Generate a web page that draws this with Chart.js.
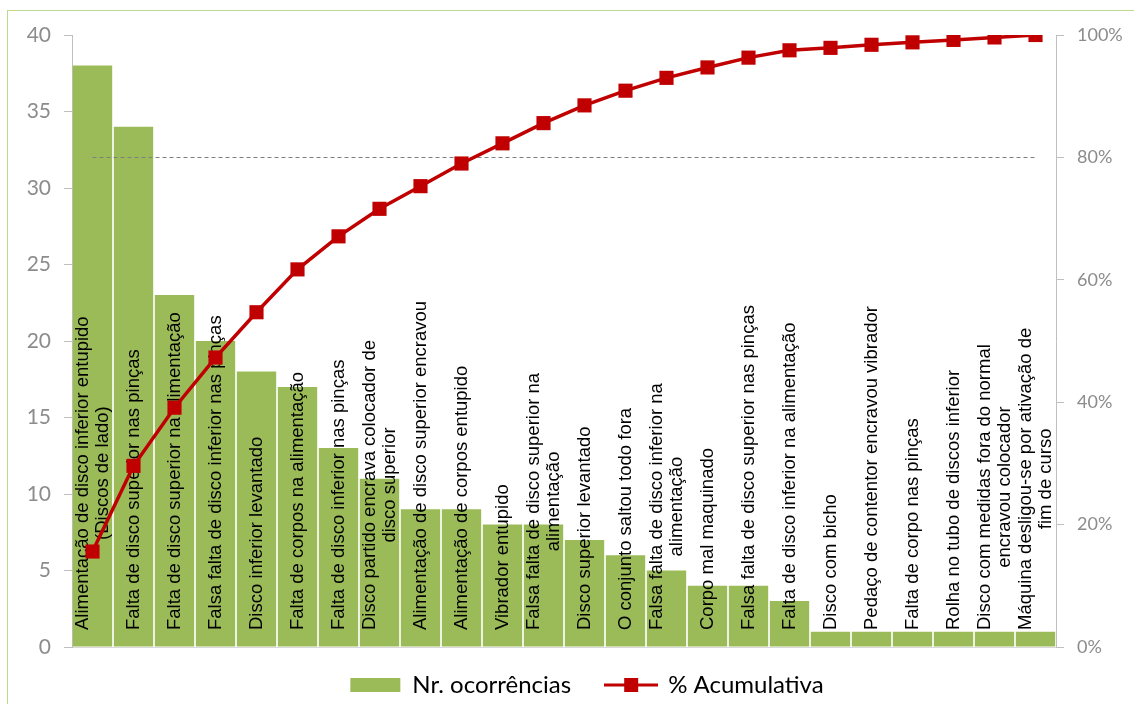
<!DOCTYPE html>
<html>
<head>
<meta charset="utf-8">
<script src="https://cdn.jsdelivr.net/npm/chart.js@4/dist/chart.umd.min.js"></script>
<style>
  html, body { margin: 0; padding: 0; background: #fff; }
  #wrap { position: relative; width: 1134px; height: 704px; overflow: hidden; }
  #frame { position: absolute; left: 7px; top: 10px; width: 1200px; height: 800px;
           border-left: 1px solid #bcd98f; border-top: 1px solid #bcd98f; pointer-events: none; }
</style>
</head>
<body>
<div id="wrap">
  <canvas id="chart" width="1134" height="704"></canvas>
  <div id="frame"></div>
</div>
<script>
"use strict";

// categorias (linhas do rótulo)
const categories = [
  ['Alimentação de disco inferior entupido', '(Discos de lado)'],
  ['Falta de disco superior nas pinças'],
  ['Falta de disco superior na alimentação'],
  ['Falsa falta de disco inferior nas pinças'],
  ['Disco inferior levantado'],
  ['Falta de corpos na alimentação'],
  ['Falta de disco inferior nas pinças'],
  ['Disco partido encrava colocador de', 'disco superior'],
  ['Alimentação de disco superior encravou'],
  ['Alimentação de corpos entupido'],
  ['Vibrador entupido'],
  ['Falsa falta de disco superior na', 'alimentação'],
  ['Disco superior levantado'],
  ['O conjunto saltou todo fora'],
  ['Falsa falta de disco inferior na', 'alimentação'],
  ['Corpo mal maquinado'],
  ['Falsa falta de disco superior nas pinças'],
  ['Falta de disco inferior na alimentação'],
  ['Disco com bicho'],
  ['Pedaço de contentor encravou vibrador'],
  ['Falta de corpo nas pinças'],
  ['Rolha no tubo de discos inferior'],
  ['Disco com medidas fora do normal', 'encravou colocador'],
  ['Máquina desligou-se por ativação de', 'fim de curso']
];

const ocorrencias = [38, 34, 23, 20, 18, 17, 13, 11, 9, 9, 8, 8, 7, 6, 5, 4, 4, 3, 1, 1, 1, 1, 1, 1];

const acumulativa = [15.6, 29.6, 39.1, 47.3, 54.7, 61.7, 67.1, 71.6, 75.3, 79.0, 82.3, 85.6,
                     88.5, 90.9, 93.0, 94.7, 96.3, 97.5, 97.9, 98.4, 98.8, 99.2, 99.6, 100];

const leftTicks = [0, 5, 10, 15, 20, 25, 30, 35, 40];
const rightTicks = [0, 20, 40, 60, 80, 100];
const linhaReferencia = 80;

const verde = '#9bbb59';
const vermelho = '#c00000';
const cinza = '#8c8c8c';
const eixo = '#bfbfbf';

// imagem da legenda da linha: traço + quadrado
function lineLegendImage() {
  const c = document.createElement('canvas');
  c.width = 54; c.height = 16;
  const g = c.getContext('2d');
  g.strokeStyle = vermelho;
  g.lineWidth = 3;
  g.beginPath(); g.moveTo(0, 8); g.lineTo(54, 8); g.stroke();
  g.fillStyle = vermelho;
  g.fillRect(20, 1, 14, 14);
  return c;
}

// rótulos verticais dentro das barras + linha tracejada dos 80%
const overlay = {
  id: 'overlay',
  afterLayout(chart) {
    // legenda um pouco à direita e acima, como no original
    const lg = chart.legend;
    lg.left += 20; lg.right += 20;
    lg.top -= 9; lg.bottom -= 9;
  },
  afterDatasetDraw(chart, args) {
    if (args.index !== 1) return;
    const ctx = chart.ctx;
    const x = chart.scales.x;
    const y1 = chart.scales.y1;
    const bottom = chart.chartArea.bottom;

    ctx.save();
    ctx.strokeStyle = '#7f7f7f';
    ctx.lineWidth = 1;
    ctx.setLineDash([4, 3]);
    const yy = Math.round(y1.getPixelForValue(linhaReferencia)) + 0.5;
    ctx.beginPath();
    ctx.moveTo(x.getPixelForValue(0), yy);
    ctx.lineTo(x.getPixelForValue(categories.length - 1), yy);
    ctx.stroke();
    ctx.restore();

    ctx.save();
    ctx.font = '18.5px "Liberation Sans", Arial, sans-serif';
    ctx.fillStyle = '#000';
    ctx.textBaseline = 'middle';
    ctx.textAlign = 'center';
    const lh = 20;
    categories.forEach(function(lines, i) {
      const cx = x.getPixelForValue(i);
      let w = 0;
      lines.forEach(function(l) { w = Math.max(w, ctx.measureText(l).width); });
      ctx.save();
      ctx.translate(cx, bottom - 17 - w / 2);
      ctx.rotate(-Math.PI / 2);
      lines.forEach(function(l, k) {
        ctx.fillText(l, 0, (k - (lines.length - 1) / 2) * lh);
      });
      ctx.restore();
    });
    ctx.restore();
  }
};

const chart = new Chart('chart', {
  data: {
    labels: categories,
    datasets: [{
      type: 'line',
      label: '% Acumulativa',
      data: acumulativa,
      yAxisID: 'y1',
      borderColor: vermelho,
      backgroundColor: vermelho,
      borderWidth: 3.5,
      pointStyle: 'rect',
      pointRadius: 10,
      pointBorderWidth: 0,
      order: 0
    }, {
      type: 'bar',
      label: 'Nr. ocorrências',
      data: ocorrencias,
      yAxisID: 'y',
      backgroundColor: verde,
      barPercentage: 0.96,
      categoryPercentage: 1,
      order: 1
    }]
  },
  options: {
    responsive: false,
    animation: false,
    layout: { padding: { left: 0, right: 0, top: 35, bottom: 0 } },
    scales: {
      x: {
        ticks: { display: false },
        grid: { display: false },
        border: { display: true, color: '#d9d9d9' },
        afterFit: function(s) { s.height = 0; }
      },
      y: {
        position: 'left',
        min: 0, max: 40,
        afterBuildTicks: function(s) { s.ticks = leftTicks.map(function(v) { return {value: v}; }); },
        ticks: { color: cinza, padding: 13, font: { family: 'Lato', size: 21 } },
        grid: { drawOnChartArea: false, tickLength: 8, color: eixo },
        border: { color: eixo, width: 1 },
        afterFit: function(s) { s.width = 72; }
      },
      y1: {
        position: 'right',
        min: 0, max: 100,
        afterBuildTicks: function(s) { s.ticks = rightTicks.map(function(v) { return {value: v}; }); },
        ticks: { color: cinza, padding: 13, font: { family: 'Lato', size: 18 },
                 callback: function(v) { return v + '%'; } },
        grid: { drawOnChartArea: false, tickLength: 8, color: eixo },
        border: { color: eixo, width: 1 },
        afterFit: function(s) { s.width = 78; }
      }
    },
    plugins: {
      tooltip: { enabled: false },
      legend: {
        position: 'bottom',
        maxHeight: 57,
        labels: {
          usePointStyle: true,
          pointStyleWidth: 50,
          boxHeight: 14,
          padding: 35,
          color: '#000',
          font: { family: 'Lato', size: 24 },
          generateLabels: function() {
            return [
              { text: 'Nr. ocorrências', fillStyle: verde, strokeStyle: verde, lineWidth: 0,
                pointStyle: 'rect', hidden: false, datasetIndex: 1 },
              { text: '% Acumulativa', fillStyle: vermelho, strokeStyle: vermelho, lineWidth: 0,
                pointStyle: lineLegendImage(), hidden: false, datasetIndex: 0 }
            ];
          }
        }
      }
    }
  },
  plugins: [overlay]
});
</script>
</body>
</html>
